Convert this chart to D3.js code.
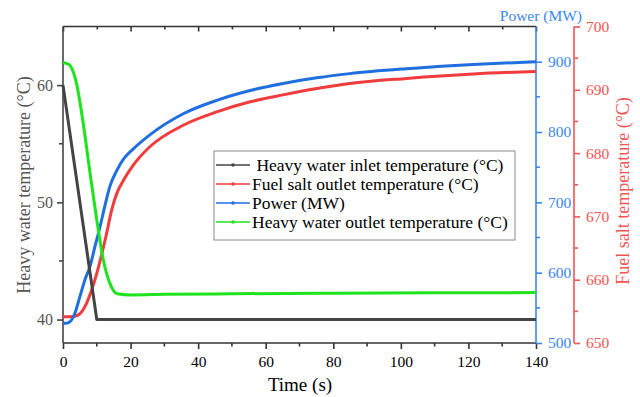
<!DOCTYPE html>
<html>
<head>
<meta charset="utf-8">
<script src="https://cdn.jsdelivr.net/npm/d3@7/dist/d3.min.js"></script>
<style>
  html, body { margin: 0; padding: 0; background: #fff; }
  svg { display: block; font-family: "Liberation Serif", "Times New Roman", serif; }
  svg text { font-family: "Liberation Serif", "Times New Roman", serif; }
</style>
</head>
<body>
<svg id="chart" width="640" height="397"></svg>
<script>
// Heavy water inlet temperature (°C)
const inletTime = [0, 10, 140];
const inletTemp = [60, 40, 40];

// Heavy water outlet temperature (°C)
const outletTime = [0, 1, 2, 4, 6, 8, 10, 12, 14, 16, 20, 30, 50, 80, 110, 140];
const outletTemp = [61.9, 61.85, 61.7, 60.15, 56.7, 52.5, 48.5, 45.0, 43.0, 42.2, 42.1, 42.15, 42.2, 42.25, 42.28, 42.3];

// Power (MW)
const powerTime = [0, 1, 2, 3.5, 5, 6.5, 8, 9.5, 11, 12.4, 13.9, 15.9, 18, 20.8, 25.7, 35.6, 45.5, 55.4, 65.1, 75.1, 84.9, 101.7, 121.4, 140];
const powerMW = [528, 528, 530, 542, 566, 590, 609, 638, 666, 695, 723, 745, 762, 776, 796, 826, 845, 859, 869, 877, 883, 890, 896, 900];

// Fuel salt outlet temperature (°C)
const fuelTime = [0, 2, 4, 5.5, 7, 8.5, 10, 11.5, 12.9, 14.4, 15.9, 17.9, 20.8, 25.7, 35.6, 45.5, 55.4, 65.1, 75.1, 84.9, 101.7, 121.4, 140];
const fuelTemp = [654.15, 654.15, 654.3, 654.9, 656.3, 658.4, 661.0, 664.1, 667.3, 671.0, 673.6, 675.7, 678.1, 681.0, 684.4, 686.5, 688.1, 689.2, 690.2, 691.0, 691.8, 692.5, 692.9];

// Axis ticks
const timeTicks = [0, 20, 40, 60, 80, 100, 120, 140];
const waterTicks = [40, 50, 60];
const powerTicks = [500, 600, 700, 800, 900];
const fuelTicks = [650, 660, 670, 680, 690, 700];

const legendLabels = [
  "\u00a0Heavy water inlet temperature (\u00b0C)",
  "Fuel salt outlet temperature (\u00b0C)",
  "Power (MW)",
  "Heavy water outlet temperature (\u00b0C)"
];

const C = {
  inlet: "#444444",
  fuel: "#f03c3c",
  power: "#1f6fe0",
  outlet: "#1ee41e",
  powerAxis: "#3a86ee",
  fuelAxis: "#f25555",
  leftAxis: "#444444",
  leftText: "#555555"
};

const SERIF = '"Liberation Serif", "Times New Roman", serif';
const svg = d3.select("#chart");
const m = { left: 63, right: 536, top: 26.5, bottom: 343 };
const fuelAxisX = 574;

const x = d3.scaleLinear().domain([0, 140]).range([m.left, m.right]);
const yWater = d3.scaleLinear().domain([38, 65]).range([m.bottom, m.top]);
const yPower = d3.scaleLinear().domain([500, 950]).range([m.bottom, m.top]);
const yFuel = d3.scaleLinear().domain([650, 700]).range([m.bottom, m.top]);

const minor = (lo, hi, step) => d3.range(lo, hi + step / 2, step);

function styleAxis(g, color, textColor, size) {
  g.attr("font-family", SERIF).attr("font-size", size);
  g.selectAll("path.domain").attr("stroke", color).attr("stroke-width", 1.6);
  g.selectAll("line").attr("stroke", color).attr("stroke-width", 1.6);
  g.selectAll("text").attr("fill", textColor)
    .attr("font-family", SERIF).attr("font-size", size);
}

// Top frame with inward ticks
const gTop = svg.append("g").attr("transform", `translate(0,${m.top})`)
  .call(d3.axisTop(x).tickValues(minor(0, 140, 10)).tickSize(-4).tickFormat(""));
gTop.selectAll(".tick line").attr("y2", d => (d % 20 === 0 ? 5 : 3));
styleAxis(gTop, "#333", "#000", 15);
gTop.select("path.domain").attr("d", `M${m.left},0H${m.right}`);

// Bottom time axis
const gBottom = svg.append("g").attr("transform", `translate(0,${m.bottom})`)
  .call(d3.axisBottom(x).tickValues(timeTicks).tickSize(6).tickPadding(7).tickFormat(d3.format("d")));
gBottom.selectAll(".minor").data(minor(10, 130, 20)).enter().append("line")
  .attr("x1", d => x(d)).attr("x2", d => x(d)).attr("y1", 0).attr("y2", 3.5);
styleAxis(gBottom, "#333", "#000", 15.5);
gBottom.select("path.domain").attr("d", `M${m.left},0H${m.right}`);

// Left heavy water temperature axis
const gLeft = svg.append("g").attr("transform", `translate(${m.left},0)`)
  .call(d3.axisLeft(yWater).tickValues(waterTicks).tickSize(6).tickPadding(4));
gLeft.selectAll(".minor").data([45, 55]).enter().append("line")
  .attr("x1", -4).attr("x2", 0).attr("y1", d => yWater(d)).attr("y2", d => yWater(d));
styleAxis(gLeft, C.leftAxis, C.leftText, 16);
gLeft.select("path.domain").attr("d", `M0,${m.bottom}V${m.top}`);

// Right power axis
const gPower = svg.append("g").attr("transform", `translate(${m.right},0)`)
  .call(d3.axisRight(yPower).tickValues(powerTicks).tickSize(6).tickPadding(6));
gPower.selectAll(".minor").data([550, 650, 750, 850]).enter().append("line")
  .attr("x1", 0).attr("x2", 4).attr("y1", d => yPower(d)).attr("y2", d => yPower(d));
styleAxis(gPower, C.powerAxis, C.powerAxis, 15.5);
gPower.select("path.domain").attr("d", `M0,${m.bottom}V${m.top}`);

// Far right fuel salt axis
const gFuel = svg.append("g").attr("transform", `translate(${fuelAxisX},0)`)
  .call(d3.axisRight(yFuel).tickValues(fuelTicks).tickSize(6).tickPadding(6));
gFuel.selectAll(".minor").data(minor(655, 695, 10)).enter().append("line")
  .attr("x1", 0).attr("x2", 4).attr("y1", d => yFuel(d)).attr("y2", d => yFuel(d));
styleAxis(gFuel, C.fuelAxis, C.fuelAxis, 15.5);
gFuel.select("path.domain").attr("d", `M0,${m.bottom}V${m.top}`);

// Axis titles
svg.append("text").attr("x", 300).attr("y", 391).attr("text-anchor", "middle")
  .attr("font-size", 19).attr("fill", "#000").text("Time (s)");
svg.append("text").attr("transform", "translate(30,185) rotate(-90)").attr("text-anchor", "middle")
  .attr("font-size", 18).attr("fill", C.leftText).text("Heavy water temperature (\u00b0C)");
svg.append("text").attr("transform", "translate(629,191) rotate(-90)").attr("text-anchor", "middle")
  .attr("font-size", 18).attr("fill", C.fuelAxis).text("Fuel salt temperature (\u00b0C)");
svg.append("text").attr("x", 582).attr("y", 21).attr("text-anchor", "end")
  .attr("font-size", 15.5).attr("fill", C.powerAxis).text("Power (MW)");

// Curves
const series = [
  { t: fuelTime, v: fuelTemp, y: yFuel, color: C.fuel, curve: d3.curveMonotoneX },
  { t: powerTime, v: powerMW, y: yPower, color: C.power, curve: d3.curveMonotoneX },
  { t: inletTime, v: inletTemp, y: yWater, color: C.inlet, curve: d3.curveLinear },
  { t: outletTime, v: outletTemp, y: yWater, color: C.outlet, curve: d3.curveMonotoneX }
];
const plot = svg.append("g");
series.forEach(s => {
  const line = d3.line().x(i => x(s.t[i])).y(i => s.y(s.v[i])).curve(s.curve);
  plot.append("path").attr("d", line(d3.range(s.t.length)))
    .attr("fill", "none").attr("stroke", s.color).attr("stroke-width", 3)
    .attr("stroke-linejoin", "round");
});

// Legend
const legendColors = [C.inlet, C.fuel, C.power, C.outlet];
const lg = svg.append("g").attr("transform", "translate(214,151)");
lg.append("rect").attr("width", 301).attr("height", 89)
  .attr("fill", "#fff").attr("stroke", "#8a8a8a").attr("stroke-width", 1);
const rows = lg.selectAll("g.row").data(legendLabels).enter().append("g")
  .attr("transform", (d, i) => `translate(0,${14 + i * 19})`);
rows.append("line").attr("x1", 2).attr("x2", 36).attr("y1", 0).attr("y2", 0)
  .attr("stroke", (d, i) => legendColors[i]).attr("stroke-width", 1.3);
rows.append("circle").attr("cx", 19).attr("cy", 0).attr("r", 1.8)
  .attr("fill", (d, i) => legendColors[i]);
rows.append("text").attr("x", 38).attr("y", 5.5).attr("font-size", 17.5)
  .attr("fill", "#000").text(d => d);
</script>
</body>
</html>
